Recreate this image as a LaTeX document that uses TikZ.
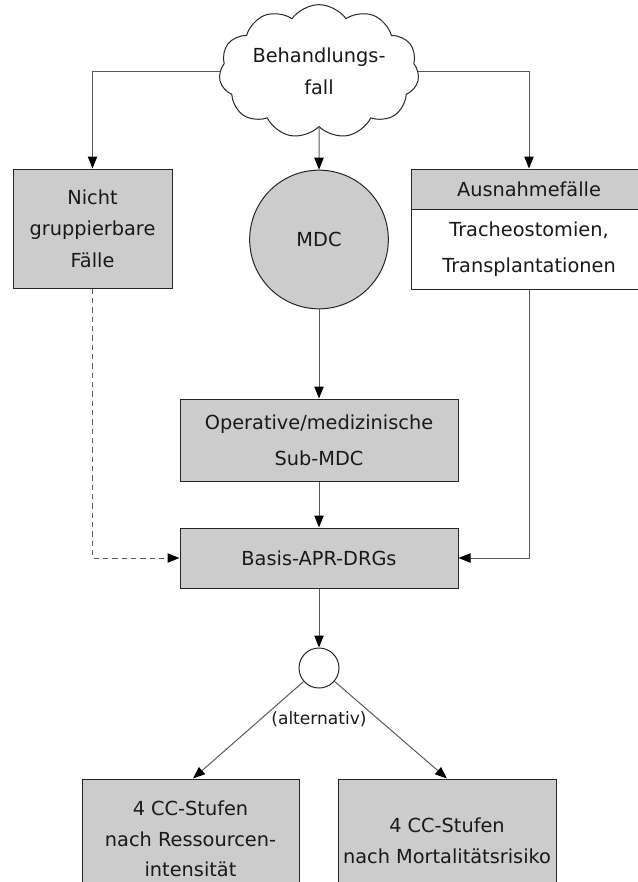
\documentclass[tikz,border=0pt]{standalone}
\usepackage{fontspec}
\setmainfont{DejaVu Sans}
\usetikzlibrary{shapes.symbols,arrows.meta,calc}
\begin{document}
\begin{tikzpicture}[x=0.75pt,y=-0.75pt,
  txt/.style={font=\fontsize{14.5}{23.6}\selectfont, text=black!90},
  box/.style={txt, draw=black!85, fill=gray!40, line width=0.75pt, inner sep=0pt, align=center},
  wbox/.style={box, fill=white},
  conn/.style={draw=black!65, line width=0.75pt},
  arr/.style={conn, -{Triangle[length=9pt,width=7pt,color=black]}},
  darr/.style={arr, dash pattern=on 4pt off 3pt}
]
\useasboundingbox (0,0) rectangle (638,882);
\clip (0,0) rectangle (638,882);

% nodes
\node[cloud, cloud puffs=11, cloud puff arc=110, aspect=1.7, draw=black!85, fill=white,
      line width=0.75pt, minimum width=150pt, minimum height=86pt, inner sep=0pt,
      txt, align=center] (cl) at (319,71.5) {Behandlungs-\\fall};

\node[box, minimum width=119.25pt, minimum height=89.25pt] (ng) at (92.5,228.5)
  {Nicht\\gruppierbare\\Fälle};

\node[box, circle, minimum size=104pt] (mdc) at (319,239.5) {MDC};

\node[box, minimum width=177pt, minimum height=30pt] (ah) at (529,189) {Ausnahmefälle};
\node[wbox, minimum width=177pt, minimum height=60pt,
      font=\fontsize{14.5}{27.5}\selectfont] (ab) at (529,249)
  {Tracheostomien,\\Transplantationen};

\node[box, minimum width=208.5pt, minimum height=61.5pt,
      font=\fontsize{14.5}{27}\selectfont] (op) at (319,440)
  {Operative/medizinische\\Sub-MDC};

\node[box, minimum width=208.5pt, minimum height=45pt] (ba) at (319,558) {Basis-APR-DRGs};

\node[draw=black!85, fill=white, line width=0.75pt, circle, minimum size=30pt, inner sep=0pt] (c) at (319,668) {};

\node[txt, font=\fontsize{12.8}{15}\selectfont] (alt) at (319,719) {(alternativ)};

\node[box, minimum width=162.75pt, minimum height=93pt,
      font=\fontsize{14.5}{23}\selectfont] (bl) at (190.5,841)
  {4 CC-Stufen\\nach Ressourcen-\\intensität\rule{0pt}{0pt}\vspace{3pt}};
\node[box, minimum width=163.5pt, minimum height=93pt] (br) at (447,841)
  {4 CC-Stufen\\nach Mortalitätsrisiko};

% connectors
\draw[arr] (cl.west) -| (ng.north);
\draw[arr] (cl.east) -| (ah.north);
\draw[arr] (cl.south) -- (mdc.north);
\draw[arr] (mdc.south) -- (op.north);
\draw[arr] (op.south) -- (ba.north);
\draw[darr] (ng.south) |- (ba.west);
\draw[arr] (ab.south) |- (ba.east);
\draw[arr] (ba.south) -- (c.north);
\draw[arr] (c) -- ($(bl.north)+(2.5,0)$);
\draw[arr] (c) -- (br.north);
\end{tikzpicture}
\end{document}
